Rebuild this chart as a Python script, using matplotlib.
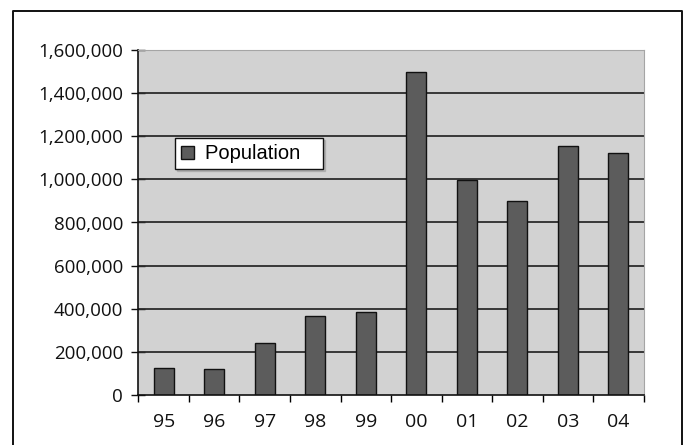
import numpy as np
import matplotlib
matplotlib.use("Agg")
import matplotlib.pyplot as plt
from matplotlib.lines import Line2D

# data
years = ["95", "96", "97", "98", "99", "00", "01", "02", "03", "04"]
population = [127000, 120000, 243000, 368000, 383000, 1500000, 995000, 898000, 1155000, 1121000]
y_ticks = [0, 200000, 400000, 600000, 800000, 1000000, 1200000, 1400000, 1600000]

fig = plt.figure(figsize=(6.89, 4.45), dpi=100)
ax = fig.add_axes([0.201, 0.1124, 0.733, 0.7752])
ax.set_facecolor("#d2d2d2")

x = np.arange(len(years))
ax.bar(x, population, width=0.40, color="#5c5c5c", edgecolor="#111111",
       linewidth=1.0, label="Population", zorder=3)

# horizontal gridlines (top one is the plot border)
ax.hlines(y_ticks[1:-1], -0.5, len(years) - 0.5, colors="#2b2b2b", linewidth=1.3, zorder=2)

ax.set_xlim(-0.5, len(years) - 0.5)
ax.set_ylim(0, y_ticks[-1])

# y axis
ax.set_yticks(y_ticks)
ax.set_yticklabels([f"{v:,}" for v in y_ticks])
ax.tick_params(axis="y", direction="inout", length=10, width=1.0, pad=6,
               labelsize=13.5, colors="#111111")

# x axis: tick marks between categories, labels at the centres
ax.set_xticks(np.arange(len(years) + 1) - 0.5)
ax.set_xticklabels([])
ax.set_xticks(x, minor=True)
ax.set_xticklabels(years, minor=True)
ax.tick_params(axis="x", which="major", direction="out", length=5, width=1.0)
ax.tick_params(axis="x", which="minor", length=0, pad=13, labelsize=14, colors="#111111")

for lab in ax.get_yticklabels() + ax.get_xticklabels(minor=True):
    lab.set_fontfamily(["Open Sans", "DejaVu Sans"])

ax.spines["left"].set_color("#111111")
ax.spines["bottom"].set_color("#111111")
ax.spines["left"].set_linewidth(1.2)
ax.spines["bottom"].set_linewidth(1.2)
ax.spines["top"].set_color("#a5a5a5")
ax.spines["right"].set_color("#a5a5a5")
for s in ax.spines.values():
    s.set_zorder(4)

leg = ax.legend(loc="upper left", bbox_to_anchor=(0.072, 0.744), borderaxespad=0,
                frameon=True, fancybox=False, shadow={"color": "#999999", "ox": 1.5, "oy": -1.5},
                prop={"family": "Liberation Sans", "size": 14.5},
                handlelength=0.65, handleheight=0.65, handletextpad=0.55,
                borderpad=0.3)
leg.get_frame().set_edgecolor("#111111")
leg.get_frame().set_facecolor("white")
leg.get_frame().set_alpha(1)
leg.set_zorder(5)
# the box in the original leaves extra room after the text
leg.get_texts()[0].set_text(leg.get_texts()[0].get_text() + "   ")

# outer frame around the figure (bottom is cut off)
fx0, fx1 = 12.5 / 689, 682 / 689
fy1 = 1 - 11 / 445
fig.add_artist(Line2D([fx0, fx0, fx1, fx1], [0, fy1, fy1, 0], color="#111111", linewidth=1.4))

fig.savefig("out.png", dpi=100)
